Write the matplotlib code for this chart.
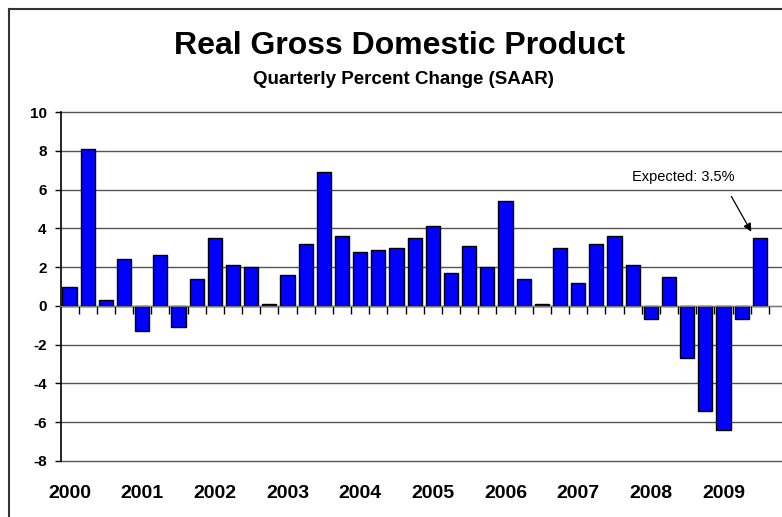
import matplotlib
matplotlib.use("Agg")
from matplotlib import pyplot as plt
from matplotlib.lines import Line2D
import numpy as np

# quarterly real GDP growth, SAAR, 2000Q1 .. 2009Q3
years = ['2000', '2001', '2002', '2003', '2004',
         '2005', '2006', '2007', '2008', '2009']
gdp = [1.0, 8.1, 0.3, 2.4,
       -1.3, 2.6, -1.1, 1.4,
       3.5, 2.1, 2.0, 0.1,
       1.6, 3.2, 6.9, 3.6,
       2.8, 2.9, 3.0, 3.5,
       4.1, 1.7, 3.1, 2.0,
       5.4, 1.4, 0.1, 3.0,
       1.2, 3.2, 3.6, 2.1,
       -0.7, 1.5, -2.7, -5.4,
       -6.4, -0.7, 3.5]
yticks = [-8, -6, -4, -2, 0, 2, 4, 6, 8, 10]
note = 'Expected: 3.5%'

plt.rcParams['font.family'] = ['Liberation Sans', 'DejaVu Sans']

W, H = 782, 517
fig = plt.figure(figsize=(W / 100, H / 100), dpi=100)
ax = fig.add_axes([60.5 / W, 1 - 461 / H, 1 - 60.5 / W, (461 - 112) / H])

x = np.arange(len(gdp))
ax.bar(x, gdp, width=0.78, color='#0000ff', edgecolor='black', linewidth=1.0, zorder=3)

ax.set_xlim(-0.5, len(gdp) - 0.5 + 13 / 18.15)
ax.set_ylim(-8, 10)
ax.set_yticks(yticks)
ax.set_yticklabels([str(t) for t in yticks], fontsize=11, fontweight='bold')
ax.tick_params(axis='y', direction='out', length=4, width=1, pad=6)
for t in yticks:
    ax.axhline(t, color='#555555', linewidth=1.0, zorder=1, clip_on=False)

# category axis sits on zero
ax.spines['bottom'].set_position(('data', 0))
ax.spines['bottom'].set_color('#777777')
ax.spines['bottom'].set_zorder(4)
ax.set_xticks(x + 0.5)
ax.set_xticklabels([])
ax.tick_params(axis='x', direction='out', length=6, width=1, color='black')
for s in ['top', 'right']:
    ax.spines[s].set_visible(False)
ax.spines['left'].set_color('black')
ax.spines['left'].set_linewidth(1.2)

for i, yr in enumerate(years):
    ax.annotate(yr, (i * 4, -8), xytext=(0, -32), textcoords='offset pixels',
                ha='center', va='center', fontsize=14, fontweight='bold',
                annotation_clip=False)

tip = (len(gdp) - 1 - 0.4, gdp[-1] + 0.2)
fig.text(683 / W, 1 - 177 / H, note, fontsize=10.5, ha='center', va='center')
ax.annotate('', xy=tip, xytext=(730 / W, 1 - 194 / H), textcoords='figure fraction',
            arrowprops=dict(arrowstyle='-|>', color='black', lw=0.9, mutation_scale=12))

fig.text(400 / W, 1 - 46 / H, 'Real Gross Domestic Product',
         ha='center', va='center', fontsize=23, fontweight='bold')
fig.text(403 / W, 1 - 80 / H, 'Quarterly Percent Change (SAAR)',
         ha='center', va='center', fontsize=13.5, fontweight='bold')

# outer chart border (right and bottom cut off)
fig.add_artist(Line2D([8.5 / W, 8.5 / W], [0, 1 - 8.5 / H], color='#333333', lw=1.5))
fig.add_artist(Line2D([8.5 / W, 1], [1 - 8.5 / H, 1 - 8.5 / H], color='#333333', lw=1.5))

fig.savefig('out.png', dpi=100)
